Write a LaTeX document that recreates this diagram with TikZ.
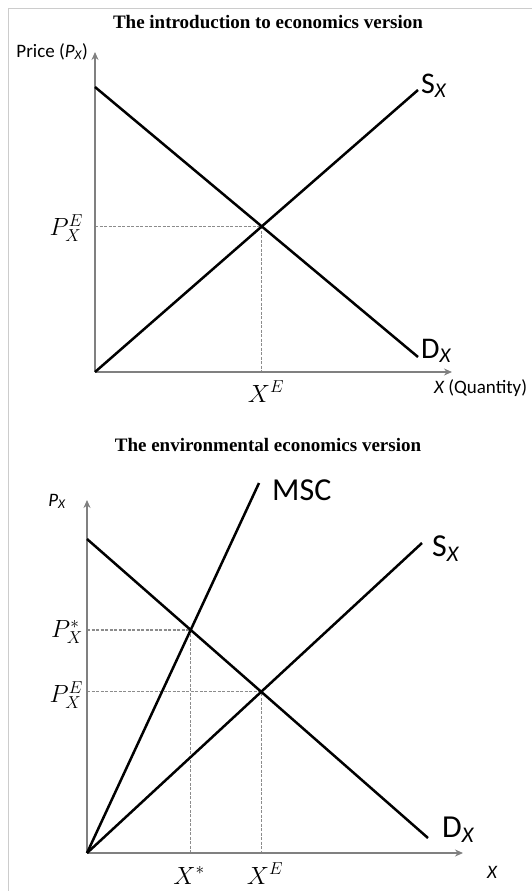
\documentclass[tikz,border=0pt]{standalone}
\usepackage{fontspec}
\setmainfont{Liberation Serif}
\newfontfamily\cali{Carlito}
\usetikzlibrary{arrows.meta}

\begin{document}
\begin{tikzpicture}[x=1pt, y=-1pt,
    axis/.style={draw=gray, line width=2.6pt, -{Stealth[length=8pt, width=7pt]}},
    curve/.style={black, line width=2.5pt},
    guide/.style={gray!90, line width=1.3pt, dash pattern=on 3pt off 1.5pt},
    frame/.style={gray!40, line width=0.8pt},
    title/.style={font=\fontsize{19}{22}\selectfont\bfseries, anchor=base},
    curvelabel/.style={font=\cali\fontsize{30}{32}\selectfont, anchor=base west, inner sep=0pt},
    mathlabel/.style={font=\fontsize{25}{27}\selectfont, inner sep=0pt},
    axislabel/.style={font=\cali\fontsize{19}{22}\selectfont, inner sep=0pt}]
    \useasboundingbox (0,0) rectangle (532,891);
    % Frame
    \draw[frame] (8,891) -- (8,8) -- (532,8);

    % Introduction version
    \node[title] (titleA) at (268,29) {The introduction to economics version};
    \coordinate (OA) at (95,372);
    \coordinate (yA) at (95,52);
    \coordinate (xA) at (452,372);
    \coordinate (DA1) at (95,87);
    \coordinate (DA2) at (418,357);
    \coordinate (SA1) at (418,90);
    \coordinate (EA) at (intersection of OA--SA1 and DA1--DA2);
    \draw[guide] (OA |- EA) -- (EA) -- (EA |- OA);
    \draw[axis] (OA) -- (yA);
    \draw[axis] (OA) -- (xA);
    \draw[curve] (DA1) -- (DA2);
    \draw[curve] (OA) -- (SA1);
    \node[axislabel, anchor=base east] (priceA) at (88,57) {Price ({\itshape P\textsubscript{X}})};
    \node[axislabel, anchor=base west] (qtyA) at (434,393) {{\itshape X} (Quantity)};
    \node[mathlabel, anchor=east] (peA) at (83,228) {$P_X^E$};
    \node[mathlabel, anchor=base] (xeA) at (266,402) {$X^E$};
    \node[curvelabel] (sA) at (421,93) {S\textsubscript{\itshape X}};
    \node[curvelabel] (dA) at (421,358) {D\textsubscript{\itshape X}};

    % Environmental version
    \node[title] (titleB) at (268,451) {The environmental economics version};
    \coordinate (OB) at (87,853);
    \coordinate (yB) at (87,500);
    \coordinate (xB) at (463,853);
    \coordinate (DB1) at (87,539);
    \coordinate (DB2) at (428,838);
    \coordinate (SB1) at (422,543);
    \coordinate (MB1) at (259,483);
    \coordinate (EB) at (intersection of OB--SB1 and DB1--DB2);
    \coordinate (QB) at (intersection of OB--MB1 and DB1--DB2);
    \draw[guide] (OB |- QB) -- (QB) -- (QB |- OB);
    \draw[guide] (OB |- EB) -- (EB) -- (EB |- OB);
    \draw[axis] (OB) -- (yB);
    \draw[axis] (OB) -- (xB);
    \draw[curve] (DB1) -- (DB2);
    \draw[curve] (OB) -- (SB1);
    \draw[curve] (OB) -- (MB1);
    \node[axislabel, anchor=base] (priceB) at (57,506) {\itshape P\textsubscript{X}};
    \node[axislabel, anchor=base] (qtyB) at (492,878) {\itshape X};
    \node[mathlabel, anchor=east] (psB) at (83,632) {$P_X^*$};
    \node[mathlabel, anchor=east] (peB) at (83,695) {$P_X^E$};
    \node[mathlabel, anchor=base] (xsB) at (189,884) {$X^*$};
    \node[mathlabel, anchor=base] (xeB) at (265,884) {$X^E$};
    \node[curvelabel, font=\cali\fontsize{32}{34}\selectfont] (mscB) at (272,500) {MSC};
    \node[curvelabel, font=\cali\fontsize{32}{34}\selectfont] (sB) at (432,556) {S\textsubscript{\itshape X}};
    \node[curvelabel, font=\cali\fontsize{32}{34}\selectfont] (dB) at (442,837) {D\textsubscript{\itshape X}};
\end{tikzpicture}
\end{document}
